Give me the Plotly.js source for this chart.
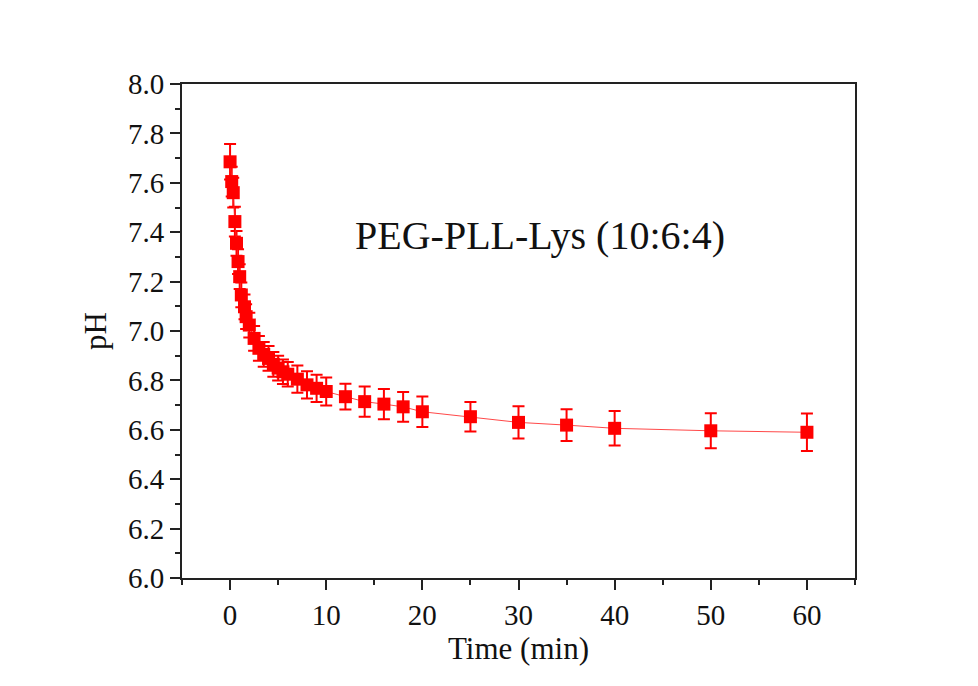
<!DOCTYPE html>
<html>
<head>
<meta charset="utf-8">
<script src="https://cdn.plot.ly/plotly-3.0.1.min.js"></script>
<style>html,body{margin:0;padding:0;background:#fff;}#chart{width:978px;height:686px;}</style>
</head>
<body>
<div id="chart"></div>
<script>
const timeMin = [0, 0.17, 0.33, 0.5, 0.67, 0.83, 1, 1.17, 1.5, 1.67, 2, 2.5, 3, 3.5, 4, 4.5, 5, 5.5, 6, 7, 8, 9, 10, 12, 14, 16, 18, 20, 25, 30, 35, 40, 50, 60];
const pHValues = [7.685, 7.605, 7.56, 7.443, 7.355, 7.281, 7.22, 7.146, 7.098, 7.058, 7.024, 6.97, 6.93, 6.905, 6.889, 6.865, 6.85, 6.835, 6.825, 6.805, 6.782, 6.768, 6.755, 6.734, 6.714, 6.704, 6.693, 6.673, 6.653, 6.630, 6.619, 6.606, 6.596, 6.590];
const pHError = [0.072, 0.06, 0.06, 0.06, 0.05, 0.05, 0.05, 0.05, 0.05, 0.05, 0.05, 0.05, 0.05, 0.05, 0.05, 0.05, 0.05, 0.05, 0.05, 0.055, 0.055, 0.055, 0.057, 0.052, 0.061, 0.061, 0.06, 0.062, 0.06, 0.065, 0.064, 0.07, 0.071, 0.076];
const xTickVals = [0, 10, 20, 30, 40, 50, 60];
const yTickVals = [6.0, 6.2, 6.4, 6.6, 6.8, 7.0, 7.2, 7.4, 7.6, 7.8, 8.0];
const yTickText = ['6.0', '6.2', '6.4', '6.6', '6.8', '7.0', '7.2', '7.4', '7.6', '7.8', '8.0'];
const labelText = 'PEG-PLL-Lys (10:6:4)';

const fontFam = '"Liberation Serif", "Times New Roman", serif';
const trace = {
  x: timeMin, y: pHValues, type: 'scatter', mode: 'lines+markers',
  line: {color: 'rgba(255,40,40,0.85)', width: 1},
  marker: {symbol: 'square', size: 13, color: '#ff0000'},
  error_y: {type: 'data', array: pHError, visible: true, color: '#ff0000', thickness: 2, width: 6}
};
const axisCommon = {
  showline: true, mirror: true, linecolor: '#222', linewidth: 2,
  ticks: 'outside', ticklen: 10, tickwidth: 2, tickcolor: '#222',
  showgrid: false, zeroline: false,
  tickfont: {family: fontFam, size: 29, color: '#111'}
};
const layout = {
  width: 978, height: 686,
  margin: {l: 182, r: 123, t: 84, b: 108},
  paper_bgcolor: '#ffffff', plot_bgcolor: '#ffffff',
  showlegend: false,
  xaxis: Object.assign({}, axisCommon, {
    range: [-5, 65], tickmode: 'array', tickvals: xTickVals,
    minor: {dtick: 5, tick0: 0, ticks: 'outside', ticklen: 5, tickwidth: 2, tickcolor: '#222', showgrid: false},
    title: {text: 'Time (min)', font: {family: fontFam, size: 31, color: '#111'}, standoff: 6}
  }),
  yaxis: Object.assign({}, axisCommon, {
    range: [6.0, 8.0], tickmode: 'array', tickvals: yTickVals, ticktext: yTickText,
    minor: {dtick: 0.1, tick0: 6.0, ticks: 'outside', ticklen: 5, tickwidth: 2, tickcolor: '#222', showgrid: false},
    title: {text: 'pH', font: {family: fontFam, size: 31, color: '#111'}, standoff: 12}
  }),
  annotations: [{
    x: 32.2, y: 7.385, xref: 'x', yref: 'y', text: labelText, showarrow: false,
    xanchor: 'center', yanchor: 'middle',
    font: {family: fontFam, size: 40, color: '#111'}
  }]
};
Plotly.newPlot('chart', [trace], layout, {displayModeBar: false, staticPlot: true});
</script>
</body>
</html>
